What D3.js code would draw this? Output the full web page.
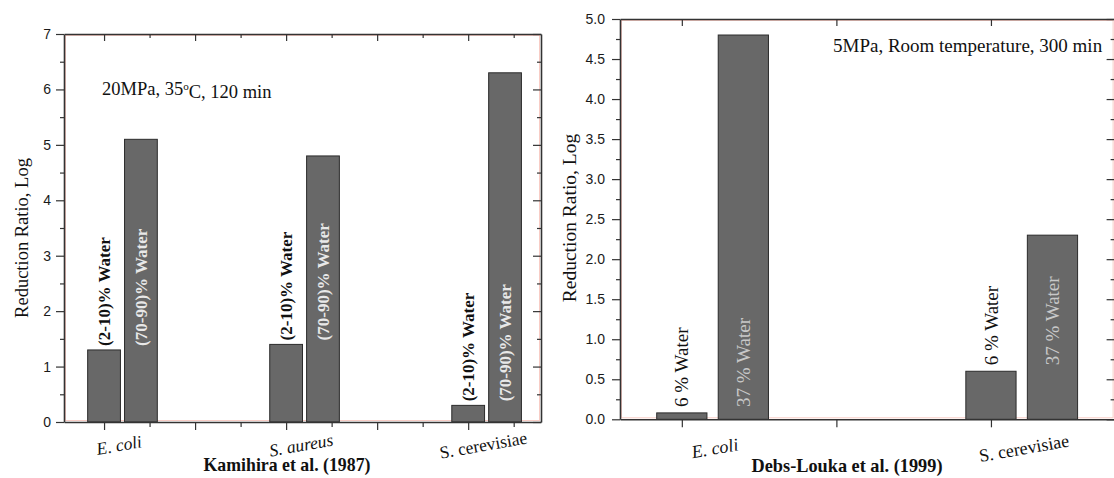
<!DOCTYPE html>
<html><head><meta charset="utf-8">
<script src="https://cdn.jsdelivr.net/npm/d3@7/dist/d3.min.js"></script>
<style>body{margin:0;background:#fff} svg{display:block}</style>
</head><body>
<svg id="c" width="1114" height="478"></svg>
<script>
// ---------- Left panel (Kamihira et al., 1987) ----------
const leftCategories = ["E. coli", "S. aureus", "S. cerevisiae"];
const leftPositions = [1, 3, 5];
const leftLowWater = [1.3, 1.4, 0.3];
const leftHighWater = [5.1, 4.8, 6.3];
const leftSeriesLabels = ["(2-10)% Water", "(70-90)% Water"];
const leftYTicks = [0, 1, 2, 3, 4, 5, 6, 7];
const leftYTickLabels = ["0", "1", "2", "3", "4", "5", "6", "7"];
const leftYMinor = [0.5, 1.5, 2.5, 3.5, 4.5, 5.5, 6.5];
const leftXMajor = [1, 2, 3, 4, 5];
const leftXMinor = [1.5, 2.5, 3.5, 4.5, 5.5];
const leftNote = ["20MPa, 35", "o", "C, 120 min"];
const leftTitle = "Kamihira et al. (1987)";

// ---------- Right panel (Debs-Louka et al., 1999) ----------
const rightCategories = ["E. coli", "S. cerevisiae"];
const rightPositions = [1, 3];
const rightLowWater = [0.08, 0.6];
const rightHighWater = [4.8, 2.3];
const rightSeriesLabels = ["6 % Water", "37 % Water"];
const rightYTicks = [0, 0.5, 1, 1.5, 2, 2.5, 3, 3.5, 4, 4.5, 5];
const rightYTickLabels = ["0.0", "0.5", "1.0", "1.5", "2.0", "2.5", "3.0", "3.5", "4.0", "4.5", "5.0"];
const rightYMinor = [0.25, 0.75, 1.25, 1.75, 2.25, 2.75, 3.25, 3.75, 4.25, 4.75];
const rightXMajor = [1, 2, 3];
const rightXMinor = [];
const rightNote = ["5MPa, Room temperature, 300 min"];
const rightTitle = "Debs-Louka et al. (1999)";

const yTitle = "Reduction Ratio, Log";
const italicNames = new Set(["E. coli", "S. aureus"]);

const svg = d3.select("#c");
const SERIF = "'Liberation Serif','Times New Roman',serif";
const SANS = "'Liberation Sans',Arial,sans-serif";

function panel(o) {
  const x = d3.scaleLinear().domain(o.xDomain).range([o.x0, o.x1]);
  const y = d3.scaleLinear().domain(o.yDomain).range([o.y0, o.y1]);
  const g = svg.append("g");

  // faint scan fringe around the frame
  g.append("rect")
    .attr("x", o.x0 + 1.5).attr("y", o.y1 + 1.5)
    .attr("width", o.x1 - o.x0 - 3).attr("height", o.y0 - o.y1 - 3)
    .attr("fill", "none").attr("stroke", "rgba(235,110,90,0.35)").attr("stroke-width", 1);

  // bars
  const rows = o.cats.map((c, i) => ({c, p: o.pos[i], lo: o.lo[i], hi: o.hi[i]}));
  const bw = o.bw, gap = o.gap;
  rows.forEach(r => {
    [[r.p - bw / 2, r.lo], [r.p + bw / 2 + gap, r.hi]].forEach(([xs, v]) => {
      g.append("rect")
        .attr("x", x(xs)).attr("width", x(xs + bw) - x(xs))
        .attr("y", y(v)).attr("height", y(0) - y(v))
        .attr("fill", "#686868").attr("stroke", "#2b2b2b").attr("stroke-width", 1);
    });
  });

  // bar labels (rotated)
  rows.forEach(r => {
    const base = y(r.lo) - o.labelGap;
    const cx1 = x(r.p), cx2 = x(r.p + bw + gap);
    g.append("text").text(o.seriesLabels[0])
      .attr("transform", `translate(${cx1},${base}) rotate(-90)`)
      .attr("dy", "0.35em").attr("text-anchor", "start")
      .style("font-family", SERIF).style("font-size", o.barFont + "px")
      .style("font-weight", o.barWeight).attr("fill", "#111");
    g.append("text").text(o.seriesLabels[1])
      .attr("transform", `translate(${cx2},${base}) rotate(-90)`)
      .attr("dy", "0.35em").attr("text-anchor", "start")
      .style("font-family", SERIF).style("font-size", o.barFont + "px")
      .style("font-weight", o.barWeight).attr("fill", o.innerColor);
  });

  const axStyle = sel => {
    sel.selectAll("path.domain").attr("stroke", "#333").attr("stroke-width", 1.6);
    sel.selectAll(".tick line").attr("stroke", "#333").attr("stroke-width", 1.2);
  };
  const noDomain = sel => { sel.selectAll("path.domain").remove(); sel.selectAll(".tick line").attr("stroke", "#333").attr("stroke-width", 1.2); };

  // bottom
  g.append("g").attr("transform", `translate(0,${o.y0})`)
    .call(d3.axisBottom(x).tickValues(o.xMajor).tickSize(8).tickSizeOuter(0).tickFormat(""))
    .call(axStyle);
  if (o.xMinor.length) g.append("g").attr("transform", `translate(0,${o.y0})`)
    .call(d3.axisBottom(x).tickValues(o.xMinor).tickSize(5).tickFormat("")).call(noDomain);
  // top
  g.append("g").attr("transform", `translate(0,${o.y1})`)
    .call(d3.axisTop(x).tickValues(o.xMajor).tickSize(-7).tickSizeOuter(0).tickFormat(""))
    .call(axStyle);
  if (o.xMinor.length) g.append("g").attr("transform", `translate(0,${o.y1})`)
    .call(d3.axisTop(x).tickValues(o.xMinor).tickSize(-4).tickFormat("")).call(noDomain);
  // left
  const la = g.append("g").attr("transform", `translate(${o.x0},0)`)
    .call(d3.axisLeft(y).tickValues(o.yTicks).tickSize(8).tickPadding(o.tickPad).tickSizeOuter(0)
      .tickFormat((d, i) => o.yLabels[i]))
    .call(axStyle);
  la.selectAll("text").style("font-family", SANS).style("font-size", "14px").attr("fill", "#1a1a1a");
  g.append("g").attr("transform", `translate(${o.x0},0)`)
    .call(d3.axisLeft(y).tickValues(o.yMinor).tickSize(4).tickFormat("")).call(noDomain);
  // right
  g.append("g").attr("transform", `translate(${o.x1},0)`)
    .call(d3.axisRight(y).tickValues(o.yTicks).tickSize(-8).tickSizeOuter(0).tickFormat(""))
    .call(axStyle);
  g.append("g").attr("transform", `translate(${o.x1},0)`)
    .call(d3.axisRight(y).tickValues(o.yMinor).tickSize(-4).tickFormat("")).call(noDomain);

  // category labels
  rows.forEach(r => {
    g.append("text").text(r.c)
      .attr("transform", `translate(${x(r.p) + o.catDx},${o.catY}) rotate(-10)`)
      .attr("text-anchor", "middle").attr("dy", "0.35em")
      .style("font-family", SERIF).style("font-size", o.catFont + "px")
      .style("font-style", italicNames.has(r.c) ? "italic" : "normal")
      .attr("fill", "#111");
  });

  // x title
  g.append("text").text(o.title)
    .attr("x", o.titleX).attr("y", o.titleY).attr("text-anchor", "middle")
    .style("font-family", SERIF).style("font-weight", "bold").style("font-size", o.titleFont + "px")
    .attr("fill", "#111");

  // y title
  g.append("text").text(yTitle)
    .attr("transform", `translate(${o.yTitleX},${o.yTitleY}) rotate(-90)`)
    .attr("text-anchor", "middle").attr("dy", "0.35em")
    .style("font-family", SERIF).style("font-size", o.yTitleFont + "px").attr("fill", "#111");

  // note
  const t = g.append("text").attr("x", o.noteX).attr("y", o.noteY)
    .style("font-family", SERIF).style("font-size", o.noteFont + "px").attr("fill", "#111");
  o.note.forEach((s, i) => {
    const ts = t.append("tspan").text(s);
    if (o.note.length === 3 && i === 1) ts.attr("dy", "-0.45em").style("font-size", "0.6em");
    if (o.note.length === 3 && i === 2) ts.attr("dy", "0.45em");
  });
}

panel({
  cats: leftCategories, pos: leftPositions, lo: leftLowWater, hi: leftHighWater,
  seriesLabels: leftSeriesLabels, yTicks: leftYTicks, yLabels: leftYTickLabels, yMinor: leftYMinor,
  xMajor: leftXMajor, xMinor: leftXMinor, note: leftNote, title: leftTitle,
  xDomain: [0.56, 5.8], x0: 64, x1: 541, yDomain: [0, 7], y0: 422, y1: 34,
  bw: 0.36, gap: 0.045, labelGap: 4, barFont: 17, barWeight: "bold", innerColor: "#e8e8e8",
  tickPad: 5, catDx: 15, catY: 445, catFont: 17.5,
  titleX: 287, titleY: 471, titleFont: 17.8,
  yTitleX: 22, yTitleY: 238, yTitleFont: 18.5,
  noteX: 102, noteY: 95, noteFont: 18.5
});

panel({
  cats: rightCategories, pos: rightPositions, lo: rightLowWater, hi: rightHighWater,
  seriesLabels: rightSeriesLabels, yTicks: rightYTicks, yLabels: rightYTickLabels, yMinor: rightYMinor,
  xMajor: rightXMajor, xMinor: rightXMinor, note: rightNote, title: rightTitle,
  xDomain: [0.6, 3.8], x0: 620, x1: 1114.6, yDomain: [0, 5], y0: 419.3, y1: 19,
  bw: 0.325, gap: 0.073, labelGap: 6, barFont: 19, barWeight: "normal", innerColor: "#c8c8c8",
  tickPad: 7, catDx: 33, catY: 448, catFont: 18,
  titleX: 847, titleY: 472, titleFont: 18.3,
  yTitleX: 569, yTitleY: 218, yTitleFont: 19.5,
  noteX: 833, noteY: 52, noteFont: 19
});
</script>
</body></html>
